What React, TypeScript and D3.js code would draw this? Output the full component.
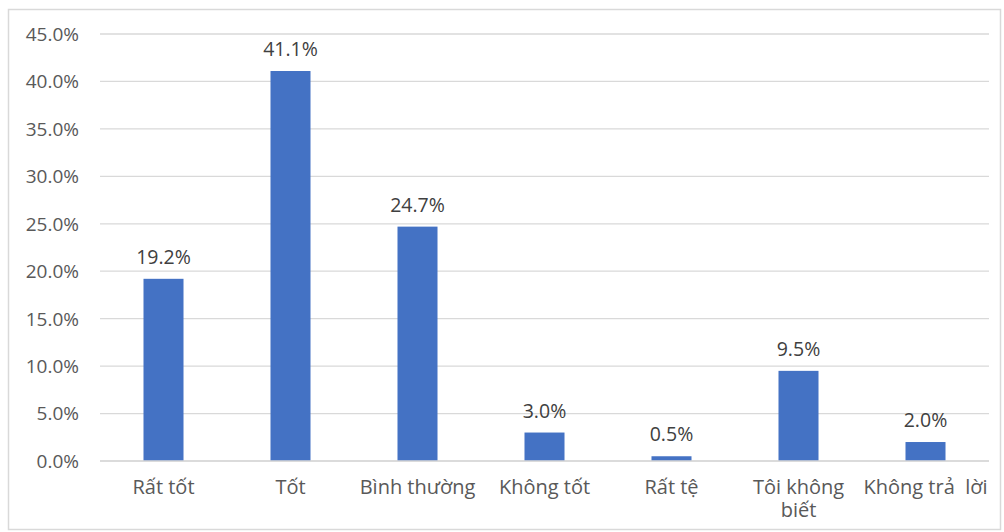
import React from "react";
import * as d3 from "d3";

const categories: string[][] = [
  ["Rất tốt"],
  ["Tốt"],
  ["Bình thường"],
  ["Không tốt"],
  ["Rất tệ"],
  ["Tôi không", "biết"],
  ["Không trả  lời"],
];
const values: number[] = [19.2, 41.1, 24.7, 3.0, 0.5, 9.5, 2.0];
const yTicks: number[] = [0, 5, 10, 15, 20, 25, 30, 35, 40, 45];

const W = 1004;
const H = 532;
const left = 100;
const right = 989;
const top = 34;
const bottom = 461;
const font = "'Open Sans', 'Segoe UI', sans-serif";

export default function App() {
  const x = d3
    .scaleBand<number>()
    .domain(values.map((_, i) => i))
    .range([left, right])
    .paddingInner(0.685)
    .paddingOuter(0.3425);
  const y = d3.scaleLinear().domain([0, 45]).range([bottom, top]);

  return (
    <svg
      width={W}
      height={H}
      style={{ position: "absolute", left: 0, top: 0, background: "#fff" }}
    >
      <rect x={8.5} y={9.5} width={992} height={520} fill="#fff" stroke="#d9d9d9" strokeWidth={1.5} />
      {yTicks.map((t) => (
        <g key={t}>
          <line x1={left} x2={right} y1={y(t)} y2={y(t)} stroke="#d9d9d9" strokeWidth={1.3} />
          <text
            x={79}
            y={y(t)}
            dy="0.36em"
            textAnchor="end"
            fontFamily={font}
            fontSize={19}
            fill="#595959"
          >
            {t.toFixed(1)}%
          </text>
        </g>
      ))}
      {values.map((v, i) => {
        const bx = x(i)!;
        const bw = x.bandwidth();
        const cx = bx + bw / 2;
        return (
          <g key={i}>
            <rect x={bx} y={y(v)} width={bw} height={y(0) - y(v)} fill="#4472C4" />
            <text
              x={cx}
              y={y(v) - 15}
              textAnchor="middle"
              fontFamily={font}
              fontSize={19.5}
              fill="#404040"
            >
              {v.toFixed(1)}%
            </text>
            <text
              x={cx}
              y={494}
              textAnchor="middle"
              fontFamily={font}
              fontSize={20}
              fill="#595959"
              style={{ whiteSpace: "pre" }}
            >
              {categories[i].map((line, j) => (
                <tspan key={j} x={cx} dy={j === 0 ? 0 : 23}>
                  {line}
                </tspan>
              ))}
            </text>
          </g>
        );
      })}
      <line x1={left} x2={right} y1={bottom} y2={bottom} stroke="#d9d9d9" strokeWidth={1.3} />
    </svg>
  );
}
